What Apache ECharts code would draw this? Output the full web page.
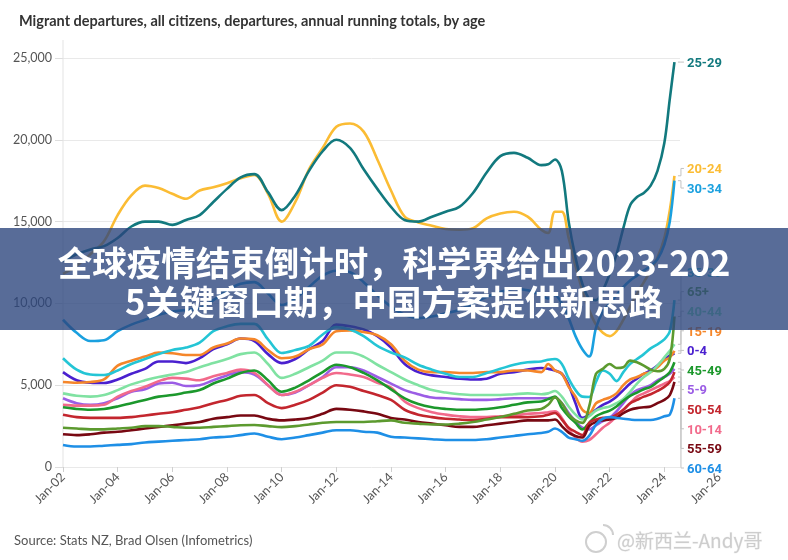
<!DOCTYPE html>
<html><head><meta charset="utf-8">
<script src="https://cdn.jsdelivr.net/npm/echarts@6/dist/echarts.min.js"></script>
<style>html,body{margin:0;padding:0;background:#fff}#c{width:788px;height:560px}</style>
</head><body><div id="c"></div>
<script>
// ---- data ----
const dates = [2002,2002.5,2003,2003.5,2004,2004.5,2005,2005.5,2006,2006.5,2007,2007.5,2008,2008.5,2009,2009.5,2010,2010.5,2011,2011.5,2012,2012.5,2013,2013.5,2014,2014.5,2015,2015.5,2016,2016.5,2017,2017.5,2018,2018.5,2019,2019.5,
  2019.75,2020,2020.25,2020.5,2020.75,2021,2021.25,2021.5,2021.75,2022,2022.25,2022.5,2022.75,2023,2023.25,2023.5,2023.75,2024,2024.2,2024.37];
const xTicks = [2002,2004,2006,2008,2010,2012,2014,2016,2018,2020,2022,2024,2026];
const yTicks = [0,5000,10000,15000,20000,25000];

const age0_4   = [5800,5300,5150,5130,5350,5700,6000,6450,6450,6350,6650,7200,7500,7850,7700,6900,6350,6600,7200,7700,8700,8600,8400,8000,7300,6300,5800,5600,5500,5400,5350,5400,5700,5800,5950,6050,6000,5900,5700,5000,3900,3000,3200,3500,3800,4000,4300,4700,5100,5400,5700,5900,6200,6600,6800,6950];
const age5_9   = [4200,3900,3800,3900,4200,4600,4750,5100,5150,4950,5000,5300,5600,5800,5650,5000,4400,4550,5000,5500,6100,6100,5900,5500,5100,4700,4450,4250,4200,4150,4100,4100,4150,4200,4200,4200,4200,4250,3900,3300,2800,2400,2300,2550,2800,3000,3400,3900,4400,4700,4850,5000,5300,5500,5700,6000];
const age10_14 = [3800,3750,3750,3800,4300,4650,4900,5250,5450,5400,5300,5550,5750,5950,5750,5000,4400,4600,5000,5450,5750,5650,5500,5150,4850,4000,3600,3350,3200,3100,3050,3050,3100,3150,3250,3300,3350,3400,3000,2300,1800,1550,1650,2000,2400,2700,3100,3500,3900,4300,4500,4700,4900,5100,5250,5500];
const age15_19 = [5200,5150,5200,5350,6200,6500,6750,7000,6950,6850,6850,7300,7550,7850,7800,7150,6650,6750,7200,7500,8300,8350,8250,8050,7500,6500,5950,5800,5800,5750,5750,5800,5800,5900,5900,5800,6300,5900,5700,4900,4300,3500,3300,3900,4100,4250,4500,5000,5350,5500,5700,5800,6100,6500,6700,7100];
const age20_24 = [11800,12300,13000,13800,15400,16600,17200,17050,16700,16400,16900,17100,17350,17650,17850,16700,15000,16200,18200,19500,20800,21000,20500,18800,16900,15300,14950,14750,14550,14500,14600,15200,15500,15600,15300,14500,14300,15600,15600,14000,12300,10800,9600,8700,8200,8000,8300,9000,9800,10600,11300,12000,12800,14000,15700,17800];
const age25_29 = [12600,13000,13300,13500,14000,14700,15000,15000,14800,15100,15400,16200,17000,17700,17900,16800,15700,16600,18100,19300,20000,19500,18200,17000,15900,15100,15000,15300,15600,15900,16750,18000,19000,19200,18900,18450,18500,18800,18100,15000,12800,11200,10300,10200,10800,11800,13000,14600,16000,16500,16750,17200,18100,19800,22500,24750];
const age30_34 = [9000,8200,7700,7750,8300,8700,9000,9300,9500,9600,9700,10200,10800,11200,11300,10600,9900,10300,11000,11700,12000,11900,11300,10500,9800,9300,9100,9200,9400,9600,10000,10400,10700,10900,10800,10500,10300,10500,10000,9100,8000,7200,6750,8500,9500,10000,10500,11000,11400,11700,12000,12300,12700,13600,15000,17500];
const age35_39 = [6650,5950,5650,5620,5900,6300,6600,6900,7150,7300,7600,8300,8600,8750,8750,7800,6970,7150,7400,8100,8550,8400,8000,7400,7000,6700,6250,5950,5700,5500,5500,5750,6000,6250,6400,6450,6550,6600,6300,5400,4700,4300,4280,5200,5900,5700,5250,5800,6300,6600,6900,7250,7500,7800,8300,10200];
const age40_44 = [4500,4350,4300,4400,4700,5050,5300,5500,5650,5800,6100,6350,6600,6900,7000,6300,5450,5700,6100,6500,7000,7000,6750,6250,5800,5350,5000,4700,4550,4450,4400,4400,4400,4450,4500,4450,4500,4650,4300,3700,3200,2900,3100,3450,3600,3700,3900,4150,4600,5100,5500,5800,6200,6700,7100,7500];
const age45_49 = [3650,3550,3500,3550,3700,3900,4100,4300,4400,4550,4700,5100,5400,5750,5900,5300,4600,4850,5300,5800,6250,6100,5750,5300,4750,4200,3850,3650,3550,3500,3500,3550,3650,3800,3950,4000,4150,4300,3600,3100,2700,2300,2700,3100,3300,3450,3700,4050,4350,4550,4750,4900,5200,5500,5800,6400];
const age50_54 = [3200,3050,3000,3000,3000,3050,3150,3250,3350,3500,3650,3900,4100,4350,4400,3900,3600,3800,4100,4550,5000,4900,4650,4400,4100,3500,3200,3050,2950,2900,2870,2950,3050,3050,3050,3100,3200,3300,2900,2400,2150,1950,2700,2900,3000,3000,3200,3500,3900,4100,4300,4450,4650,4900,5200,5800];
const age55_59 = [2000,1950,2000,2100,2150,2250,2350,2450,2550,2650,2750,2950,3050,3150,3150,2950,2850,2900,3000,3250,3550,3500,3400,3250,3000,2900,2750,2650,2550,2450,2450,2550,2650,2750,2850,2850,2850,2900,2500,2100,1900,1800,2500,2750,2850,2900,3000,3300,3500,3600,3650,3700,3900,4100,4400,5200];
const age60_64 = [1350,1250,1250,1300,1350,1400,1500,1550,1600,1650,1700,1800,1850,1950,2050,1850,1700,1800,1950,2100,2250,2250,2150,2100,1850,1800,1750,1700,1650,1650,1650,1700,1800,1900,2000,2080,2150,2350,2150,1800,1700,1600,1900,2600,2950,3050,3000,2950,2900,2870,2870,2870,2950,3100,3200,4200];
const age65p   = [2400,2350,2300,2300,2350,2400,2500,2500,2450,2400,2400,2450,2500,2550,2570,2500,2440,2500,2600,2700,2750,2750,2750,2800,2850,2700,2650,2600,2600,2650,2750,2900,3050,3250,3450,3550,3800,4250,3900,3200,2850,2700,3700,5700,6000,6300,6050,6100,6500,6400,6200,5950,5850,6000,6600,9200];

const groups = [
  {name:'0-4',   vals:age0_4,   color:'#4a20cf'},
  {name:'5-9',   vals:age5_9,   color:'#9b5de5'},
  {name:'10-14', vals:age10_14, color:'#f26a8b'},
  {name:'15-19', vals:age15_19, color:'#f5862a'},
  {name:'20-24', vals:age20_24, color:'#fbbc34'},
  {name:'25-29', vals:age25_29, color:'#12797e'},
  {name:'30-34', vals:age30_34, color:'#1aa0df'},
  {name:'35-39', vals:age35_39, color:'#24c5d5'},
  {name:'40-44', vals:age40_44, color:'#80e2a2'},
  {name:'45-49', vals:age45_49, color:'#1c982c'},
  {name:'50-54', vals:age50_54, color:'#c3262e'},
  {name:'55-59', vals:age55_59, color:'#780812'},
  {name:'60-64', vals:age60_64, color:'#1e8fe6'},
  {name:'65+',   vals:age65p,   color:'#5c9a2f'}
];

const chart = echarts.init(document.getElementById('c'), null, {renderer:'canvas'});
const latin = 'Lato, "Open Sans", sans-serif';

chart.setOption({
  animation:false,
  title:{text:'Migrant departures, all citizens, departures, annual running totals, by age',
    left:14, top:9, textStyle:{fontFamily:latin, fontWeight:'bold', fontSize:14.5, color:'#333'}},
  grid:[
    {left:63, right:69, top:58, bottom:93},
    {left:63, right:108, top:58, bottom:93}
  ],
  xAxis:[
    {type:'value', gridIndex:0, min:xTicks[0], max:xTicks[xTicks.length-1], interval:2,
     axisLine:{show:false}, splitLine:{show:false},
     axisTick:{show:true, length:5, lineStyle:{color:'#cfcfcf'}},
     axisLabel:{rotate:45, margin:8, color:'#555', fontSize:12.5, fontFamily:latin,
       formatter:v=>'Jan-'+String(Math.round(v)%100).padStart(2,'0')}},
    {type:'value', gridIndex:1, min:2002, max:2024.6, show:false}
  ],
  yAxis:[
    {type:'value', gridIndex:0, min:yTicks[0], max:yTicks[yTicks.length-1], show:false},
    {type:'value', gridIndex:1, min:yTicks[0], max:yTicks[yTicks.length-1], interval:5000,
     axisLine:{show:false},
     axisTick:{show:true, length:8, lineStyle:{color:'#dedede'}},
     splitLine:{show:true, lineStyle:{color:'#e9e9e9', width:1}},
     axisLabel:{margin:11, color:'#555', fontSize:12.5, fontFamily:latin,
       formatter:v=>v.toLocaleString('en-US')}}
  ],
  series: groups.map(g=>({
    type:'line', name:g.name, xAxisIndex:0, yAxisIndex:0,
    data: dates.map((d,i)=>[d, g.vals[i]]),
    showSymbol:false, symbol:'none', smooth:0.35,
    lineStyle:{color:g.color, width:2.6},
    itemStyle:{color:g.color},
    emphasis:{disabled:true}, silent:true
  }))
});

// ---- end labels, laid out from the data end points ----
function buildGraphics(){
  const items = groups.map(g=>{
    const n = g.vals.length-1;
    const p = chart.convertToPixel({xAxisIndex:0, yAxisIndex:0}, [dates[n], g.vals[n]]);
    return {name:g.name, color:g.color, ex:p[0], ey:p[1]};
  });
  items.sort((a,b)=>a.ey-b.ey);
  const h = 19.6;
  const bottom = chart.convertToPixel({yAxisIndex:0}, 0) + 1;
  items.forEach((it,k)=>{ it.y = k===0 ? it.ey : Math.max(it.ey, items[k-1].y + h); });
  for(let k=items.length-1;k>=0;k--){
    const lim = k===items.length-1 ? bottom : items[k+1].y - h;
    if(items[k].y > lim) items[k].y = lim;
  }
  // centre free clusters on their end points
  let start = 0;
  for(let k=1;k<=items.length;k++){
    if(k===items.length || items[k].y - items[k-1].y > h+0.01){
      const cl = items.slice(start,k);
      if(cl.length>1 && cl[cl.length-1].y < bottom-0.5){
        const want = cl.reduce((s,c)=>s+c.ey,0)/cl.length;
        const have = cl.reduce((s,c)=>s+c.y,0)/cl.length;
        cl.forEach(c=>c.y += want-have);
      }
      start = k;
    }
  }
  const x0 = chart.convertToPixel({xAxisIndex:1}, 2002);
  const yTop = chart.convertToPixel({yAxisIndex:1}, 25000);
  const els = [];
  els.push({type:'line', shape:{x1:x0, y1:yTop-18, x2:x0, y2:bottom-1}, style:{stroke:'#e3e3e3', lineWidth:1}, z:1});
  items.forEach(it=>{
    const cx = it.ex + 6.5;
    els.push({type:'polyline', shape:{points:[[cx-3,it.ey],[cx,it.ey],[cx,it.y],[cx+3,it.y]]},
      style:{stroke:'#c2c2c2', lineWidth:1, fill:null}, z:5});
    els.push({type:'text', style:{text:it.name, x:cx+6, y:it.y+1.5, fill:it.color,
      font:'bold 13px Roboto, sans-serif', textAlign:'left', textVerticalAlign:'middle'}, z:5});
  });
  // overlay banner
  els.push({type:'rect', shape:{x:0, y:228, width:788, height:102}, style:{fill:'rgba(43,69,124,0.79)'}, z:100});
  const bannerFont = 'bold 34.5px "Noto Sans CJK SC", sans-serif';
  ['全球疫情结束倒计时，科学界给出2023-202','5关键窗口期，中国方案提供新思路'].forEach((t,i)=>{
    els.push({type:'text', style:{text:t, x:394, y:263+i*39, fill:'#ffffff', font:bannerFont,
      textAlign:'center', textVerticalAlign:'middle',
      shadowColor:'rgba(0,0,0,0.75)', shadowBlur:5, shadowOffsetX:1, shadowOffsetY:1}, z:101});
  });
  // source
  els.push({type:'text', style:{text:'Source: Stats NZ, Brad Olsen (Infometrics)', x:14, y:541,
    fill:'#555', font:'13px '+latin, textAlign:'left', textVerticalAlign:'middle'}, z:5});
  // watermark
  els.push({type:'circle', shape:{cx:596, cy:542, r:10}, style:{fill:'rgba(255,255,255,0.6)', stroke:'#cfcfcf', lineWidth:2}, z:110});
  els.push({type:'arc', shape:{cx:603, cy:535, r:10, startAngle:-Math.PI/2, endAngle:0}, style:{stroke:'#cfcfcf', lineWidth:2, fill:null}, z:110});
  els.push({type:'text', style:{text:'@新西兰-Andy哥', x:617, y:541, fill:'#cdcdcd',
    stroke:'#f4f4f4', lineWidth:1, font:'19px "Noto Sans CJK SC", sans-serif',
    textAlign:'left', textVerticalAlign:'middle'}, z:110});
  chart.setOption({graphic:{elements:els}});
}
buildGraphics();
</script>
</body></html>
